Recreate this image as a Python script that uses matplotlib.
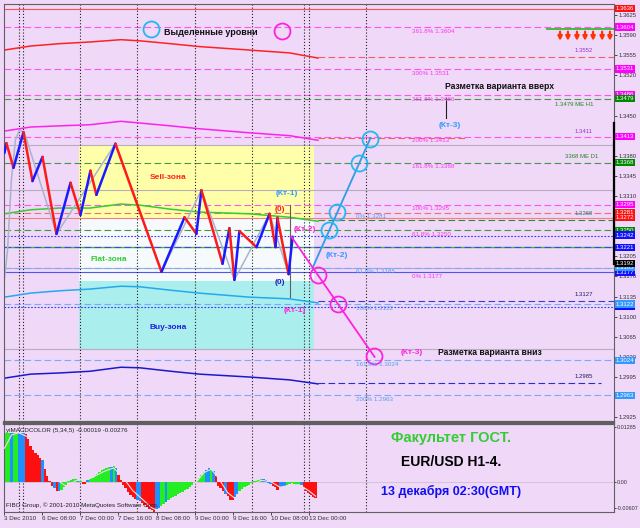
import numpy as np
import matplotlib
matplotlib.use('Agg')
import matplotlib.pyplot as plt

plt.rcParams['font.family'] = ['Liberation Sans', 'DejaVu Sans']

# x axis: hours from 6 Dec 00:00, weekend removed
# envelope moving averages
ma_hours = [-8, 3, 15, 28, 41, 49, 62, 74, 95, 112, 124]
ma_red = [1.3564, 1.3571, 1.3575, 1.3578, 1.3582, 1.3580, 1.3575, 1.3570, 1.3564, 1.3559, 1.3550]
ma_magenta = [1.3423, 1.3430, 1.3432, 1.3434, 1.3440, 1.3437, 1.3432, 1.3427, 1.3420, 1.3415, 1.3407]
ma_green = [1.3279, 1.3286, 1.3289, 1.3289, 1.3296, 1.3294, 1.3287, 1.3282, 1.3279, 1.3273, 1.3266]
ma_cyan = [1.3134, 1.3141, 1.3145, 1.3148, 1.3153, 1.3152, 1.3146, 1.3141, 1.3134, 1.3131, 1.3124]
ma_blue = [1.2993, 1.3000, 1.3002, 1.3005, 1.3012, 1.3011, 1.3005, 1.3000, 1.2995, 1.2990, 1.2983]

# zigzag
zz_hours = [-8.0, -7.2, -4.2, 0.0, 3.8, 8.0, 13.9, 19.8, 24.0, 28.2, 30.7, 38.7, 58.1,
            67.8, 72.8, 74.9, 83.8, 86.7, 88.8, 90.9, 98.1, 103.6, 106.1, 106.9, 111.6, 113.3]
zz_prices = [1.3385, 1.3402, 1.3359, 1.3421, 1.3336, 1.3378, 1.3244, 1.3333, 1.3277, 1.3354,
             1.3312, 1.3401, 1.3178, 1.3273, 1.3244, 1.3320, 1.3192, 1.3254, 1.3164, 1.3249,
             1.3221, 1.3279, 1.3221, 1.3272, 1.3174, 1.3239]
gz_hours = [-8.4, -6.7, -5.1, -3.4, -1.7, 0.4, 13.9, 38.7, 58.1, 74.9, 88.8, 103.6, 111.6]
gz_prices = [1.3152, 1.3216, 1.3338, 1.3407, 1.3425, 1.3420, 1.3244, 1.3401, 1.3178, 1.3320,
             1.3164, 1.3279, 1.3174]

# zones
zone_hours = [23.2, 122.5]
sell_zone = [1.3272, 1.3399]
flat_zone = [1.3162, 1.3272]
buy_zone = [1.3044, 1.3162]

# fibo levels
fib_up_pct = ['361.8%', '300%', '261.8%', '200%', '161.8%', '100%', '61.8%', '0%']
fib_up_prices = [1.3604, 1.3531, 1.3486, 1.3413, 1.3368, 1.3295, 1.3250, 1.3177]
fib_dn_pct = ['0%', '61.8%', '100%', '161.8%', '200%']
fib_dn_prices = [1.3281, 1.3185, 1.3122, 1.3024, 1.2963]

magenta_levels = [1.3604, 1.3531, 1.3486, 1.3413, 1.3295]
lightblue_levels = [1.3185, 1.3122, 1.3024, 1.2963]
green_levels = [1.3479, 1.3368, 1.3250]
gray_levels = [1.3399, 1.3320, 1.3185, 1.3043]
blue_dotted_levels = [1.3240, 1.3117]
red_solid_level = 1.3636
salmon_dashed_level = 1.3281
salmon_solid_level = 1.3272
green_solid_level = 1.3221
blue_dashed_level = 1.3221
blue_solid_level = 1.3177

# moving average projections to the right
ma_ext_prices = [1.3552, 1.3411, 1.3268, 1.3127, 1.2985]
ma_ext_end = [248.6, 186.0, 248.6, 248.6, 243.0]

# price boxes on the scale
box_red = [1.3636, 1.3281, 1.3272]
box_magenta = [1.3604, 1.3531, 1.3486, 1.3413, 1.3295]
box_green = [1.3479, 1.3368, 1.3250]
box_blue = [1.3242, 1.3221, 1.3177, 1.3117]
box_lightblue = [1.3185, 1.3122, 1.3024, 1.2963]
box_black = [1.3192]

# projection lines
up_hours = [121.7, 146.1]
up_prices = [1.3185, 1.3411]
up_circles = [1.3409, 1.3368, 1.3282, 1.3250]
dn_hours = [112.8, 147.8]
dn_prices = [1.3239, 1.3030]
dn_circles = [1.3172, 1.3122, 1.3032]

sep_hours = [-2, 0, 24, 48, 72, 96, 118, 120, 144]
tick_hours = [-8, 8, 24, 40, 56, 72, 88, 104, 120]
tick_labels = ['3 Dec 2010', '6 Dec 08:00', '7 Dec 00:00', '7 Dec 16:00', '8 Dec 08:00',
               '9 Dec 00:00', '9 Dec 16:00', '10 Dec 08:00', '13 Dec 00:00']
arrow_hours = [225.9, 229.2, 233.0, 236.4, 239.8, 243.6, 246.9]

# MACD histogram (x 0.001), phase u=up, d=down, x=turn
macd_hours = list(range(-8, 124))
macd_vals = [11.5, 11.5, 11.5, 11.5, 11.5, 11.5, 11.5, 11.5, 11.5, 11.2, 10.0, 8.5, 7.5, 6.8,
             6.2, 5.6, 5.2, 3.0, 1.5, 0.3, -1.0, -1.4, -2.0, -2.1, -1.8, -1.2, -0.6, 0.3,
             0.5, 0.6, 0.6, 0.4, 0.2, -0.4, -0.5, 0.4, 0.6, 1.0, 1.3, 1.8, 2.3, 2.8,
             3.1, 3.3, 3.5, 3.6, 3.8, 3.2, 1.6, 0.4, -0.8, -1.5, -2.3, -3.0, -3.6, -4.0,
             -4.3, -4.4, -4.8, -5.3, -5.8, -6.2, -6.6, -6.9, -6.3, -6.0, -5.7, -5.2, -4.6, -4.3,
             -3.8, -3.4, -3.2, -2.9, -2.6, -2.3, -1.9, -1.6, -1.2, -0.6, -0.1, 0.3, 0.9, 1.6,
             2.3, 2.8, 3.2, 2.9, 2.5, 1.3, -0.9, -1.4, -2.2, -2.7, -3.2, -4.1, -4.3, -3.5,
             -2.8, -2.0, -1.6, -1.2, -0.9, -0.6, -0.2, 0.2, 0.3, 0.4, 0.6, 0.7, 0.4, -0.2,
             -0.4, -0.9, -1.2, -1.9, -1.2, -1.2, -1.0, -0.8, -0.5, -0.3, -0.5, -0.6, -0.7, -0.8,
             -1.5, -2.0, -2.6, -3.0, -3.4, -3.8]
macd_phase = list('uuuxuuxxx' 'dddddddx' 'dddd' 'xdx' 'uuuuuuux' 'uddx' 'uuuuuuuuuxux'
                  'dddddddd' 'xx' 'dddddd' 'xx' 'uux' 'uuuuuuuuuuuuuuuu' 'xxux' 'dddd' 'xddd'
                  'xx' 'uuuuuuuuuu' 'xxxx' 'ddd' 'xxx' 'uuuuuu' 'x' 'dddddd')
sig_hours = [-8, -5, -2, 2, 6, 10, 14, 18, 22, 28, 34, 38, 42, 46, 50, 54, 57, 62, 68, 72,
             76, 79, 82, 86, 89, 94, 100, 104, 108, 112, 116, 120, 123]
sig_vals = [7.9, 11.0, 11.5, 10.5, 8.0, 5.0, 0.5, -1.0, 0.3, 0.8, 2.5, 3.3, 1.0, -2.0, -4.0,
            -6.0, -6.8, -5.0, -3.0, -0.5, 2.2, 3.0, 1.0, -2.5, -3.8, -1.5, 0.4, 0.1, -1.2,
            -0.8, -0.6, -2.0, -3.3]

# ---------------------------------------------------------------
bg = '#F0D8F8'
fig = plt.figure(figsize=(6.4, 5.28), dpi=100, facecolor=bg)
ax = fig.add_axes([4 / 640, 1 - 422 / 528, 610 / 640, 418 / 528], facecolor=bg)
ax2 = fig.add_axes([4 / 640, 1 - 512 / 528, 610 / 640, 88 / 528], facecolor=bg, sharex=ax)
x0, x1 = -8.2, 248.6
ax.set_xlim(x0, x1)
ax.set_ylim(1.29167, 1.36441)

dash = (0, (6, 3))
lw = 0.8

# zones
ax.fill_between(zone_hours, sell_zone[0], sell_zone[1], color='#FFFFAA', lw=0, zorder=0.5)
ax.fill_between(zone_hours, flat_zone[0], flat_zone[1], color='#F6FAFC', lw=0, zorder=0.5)
ax.fill_between(zone_hours, buy_zone[0], buy_zone[1], color='#AAEEEE', lw=0, zorder=0.5)

# horizontal levels
for p in gray_levels:
    ax.axhline(p, color='#B8AEC0', lw=lw, zorder=1)
for p in magenta_levels:
    ax.axhline(p, color='#FF55EE', lw=lw, ls=dash, zorder=1.2)
for p in lightblue_levels:
    ax.axhline(p, color='#77AAFF', lw=lw, ls=dash, zorder=1.2)
for p in green_levels:
    ax.axhline(p, color='#449944', lw=lw, ls=dash, zorder=1.3)
for p in blue_dotted_levels:
    ax.axhline(p, color='#3333FF', lw=lw, ls=(0, (1.5, 1.5)), zorder=1.2)
ax.axhline(red_solid_level, color='#FF5050', lw=lw, zorder=1.2)
ax.axhline(salmon_dashed_level, color='#F07070', lw=lw, ls=dash, zorder=1.2)
ax.axhline(salmon_solid_level, color='#F08080', lw=lw, zorder=1.2)
ax.axhline(green_solid_level, color='#44BB44', lw=1.0, zorder=1.2)
ax.axhline(blue_dashed_level, color='#4444EE', lw=lw, ls=dash, zorder=1.25)
ax.axhline(blue_solid_level, color='#5555EE', lw=lw, zorder=1.2)

ext_colors = ['#F06060', '#F06060', '#338833', '#3344CC', '#2233CC']
for p, e, c in zip(ma_ext_prices, ma_ext_end, ext_colors):
    ax.plot([124, e], [p, p], color=c, lw=lw, ls=dash, zorder=1.2)
ext_text_colors = ['#9933CC', '#9933CC', '#228080', '#202060', '#202060']
for p, c in zip(ma_ext_prices, ext_text_colors):
    ax.annotate(f'{p:.4f}', (232.2, p), xytext=(0, 4.5), textcoords='offset points',
                fontsize=4.3, color=c, va='center', ha='left')

# short green line and arrows at the top right
ax.plot([220.4, 248.6], [1.3601, 1.3601], color='#33BB33', lw=1.3, zorder=2)
for h in arrow_hours:
    ax.annotate('', xy=(h, 1.3580), xytext=(h, 1.3596),
                arrowprops=dict(arrowstyle='-|>', color='#FF3300', lw=1.6,
                                mutation_scale=6, shrinkA=0, shrinkB=0), zorder=3)

# separators
for h in sep_hours:
    for a in (ax, ax2):
        a.axvline(h, color='#202020', lw=0.8, ls=(0, (1, 1.8)), zorder=1.5)

# moving averages
for vals, c in zip([ma_red, ma_magenta, ma_green, ma_cyan, ma_blue],
                   ['#FF2222', '#FF22EE', '#33CC33', '#22AAEE', '#1A1ACC']):
    ax.plot(ma_hours, vals, color=c, lw=1.1, zorder=2)

# gray zigzag and main zigzag
ax.plot(gz_hours, gz_prices, color='#A8B4CC', lw=1.1, zorder=2.5)
for i in range(len(zz_hours) - 1):
    c = '#1A1AFF' if zz_prices[i + 1] > zz_prices[i] else '#FF1A1A'
    ax.plot(zz_hours[i:i + 2], zz_prices[i:i + 2], color=c, lw=1.8,
            solid_capstyle='round', zorder=3)
ax.plot([112.2, 112.2], [1.3294, 1.3134], color='#606060', lw=0.8, zorder=2.8)

# projection lines with circles
ax.plot(up_hours, up_prices, color='#2E9CE8', lw=1.3, zorder=3)
ax.plot(dn_hours, dn_prices, color='#FF22DD', lw=1.3, zorder=3)
up_x = np.interp(up_circles, up_prices, up_hours)
dn_x = np.interp(dn_circles, dn_prices[::-1], dn_hours[::-1])
ax.plot(up_x, up_circles, 'o', ms=11.5, mfc='none', mec='#22B8F0', mew=1.3, zorder=4)
ax.plot(dn_x, dn_circles, 'o', ms=11.5, mfc='none', mec='#FF22DD', mew=1.3, zorder=4)
ax.plot([53.7], [1.3601], 'o', ms=11.5, mfc='none', mec='#22B8F0', mew=1.3, zorder=4)
ax.plot([108.8], [1.3597], 'o', ms=11.5, mfc='none', mec='#FF22DD', mew=1.3, zorder=4)
ax.plot([177.9, 177.9], [1.3481, 1.3446], color='#202020', lw=0.8, zorder=3)

# fibo labels
for t, p in zip(fib_up_pct, fib_up_prices):
    ax.annotate(f'{t} {p:.4f}', (163.6, p), xytext=(0, -3), textcoords='offset points',
                fontsize=4.5, color='#FF33EE', va='center', ha='left', zorder=5)
for t, p in zip(fib_dn_pct, fib_dn_prices):
    ax.annotate(f'{t} {p:.4f}', (140.0, p), xytext=(0, -3), textcoords='offset points',
                fontsize=4.5, color='#55A0F0', va='center', ha='left', zorder=5)
ax.text(223.8, 1.3470, '1.3479 ME H1', fontsize=4.3, color='#228822', va='center', ha='left')
ax.text(228.0, 1.3378, '3368 ME D1', fontsize=4.3, color='#228822', va='center', ha='left')

# annotations
bold = dict(fontweight='bold', ha='center', va='center', zorder=6)
ax.text(79.0, 1.3595, 'Выделенные уровни', fontsize=6.5, color='#101010', **bold)
ax.text(200.6, 1.3501, 'Разметка варианта вверх', fontsize=6.2, color='#101010', **bold)
ax.text(196.4, 1.3037, 'Разметка варианта вниз', fontsize=6.2, color='#101010', **bold)
ax.text(60.8, 1.3343, 'Sell-зона', fontsize=6, color='#FF2020', **bold)
ax.text(36.0, 1.3200, 'Flat-зона', fontsize=6, color='#33CC33', **bold)
ax.text(60.8, 1.3082, 'Buy-зона', fontsize=6, color='#2020DD', **bold)
ax.text(111.0, 1.3315, '(Кт-1)', fontsize=6, color='#3399FF', **bold)
ax.text(108.0, 1.3287, '(0)', fontsize=6, color='#FF2020', **bold)
ax.text(118.5, 1.3251, '(Кт-2)', fontsize=6, color='#FF22DD', **bold)
ax.text(108.0, 1.3159, '(0)', fontsize=6, color='#2020C0', **bold)
ax.text(114.3, 1.3110, '(Кт-1)', fontsize=6, color='#FF22DD', **bold)
ax.text(132.0, 1.3206, '(Кт-2)', fontsize=6, color='#3399FF', **bold)
ax.text(179.6, 1.3432, '(Кт-3)', fontsize=6, color='#3399FF', **bold)
ax.text(163.6, 1.3037, '(Кт-3)', fontsize=6, color='#FF22DD', **bold)

# price scale, labels under the price boxes are hidden as in the terminal
boxes = [(box_red, '#FF1010', 'white'), (box_magenta, '#FF00FF', 'white'),
         (box_green, '#008800', 'white'), (box_blue, '#1010FF', 'white'),
         (box_lightblue, '#3399FF', 'white'), (box_black, '#000000', 'white')]
all_boxes = np.array([p for prices, _, _ in boxes for p in prices])
ax.yaxis.tick_right()
yt = np.arange(1.2925, 1.3626, 0.0035)
ax.set_yticks(yt)
ax.set_yticklabels(['' if np.min(np.abs(all_boxes - v)) < 0.00055 else f'{v:.4f}' for v in yt])
ax.tick_params(axis='y', labelsize=4.2, length=2, pad=1.2, colors='#303030', width=0.6)
ax.tick_params(axis='x', bottom=False, labelbottom=False)
for prices, fc, tc in boxes:
    for p in prices:
        ax.annotate(f'{p:.4f}', xy=(1, p), xycoords=('axes fraction', 'data'),
                    xytext=(1.3, 0), textcoords='offset points', fontsize=4.3, color=tc,
                    va='center', ha='left', annotation_clip=False, zorder=10,
                    bbox=dict(boxstyle='square,pad=0.18', fc=fc, ec='none'))
ax.plot([1, 1], [1.3437, 1.3192], color='black', lw=1.6, transform=ax.get_yaxis_transform(),
        clip_on=False, zorder=9)

# MACD panel
ax2.set_ylim(-0.0070, 0.01355)
col = {'u': '#22EE22', 'd': '#FF1010', 'x': '#1E90FF'}
ax2.bar(macd_hours, np.array(macd_vals) * 1e-3, width=1.0,
        color=[col[s] for s in macd_phase], lw=0, zorder=2)
ax2.plot(sig_hours, np.array(sig_vals) * 1e-3, color='#F4DCE8', lw=0.8, zorder=3)
ax2.axhline(0, color='#C8B8D0', lw=0.5, zorder=1)
ax2.yaxis.tick_right()
ax2.set_yticks([0.01285, 0.0, -0.00607])
ax2.set_yticklabels(['0.01285', '0.00', '-0.00607'])
ax2.tick_params(axis='y', labelsize=3.9, length=1.5, pad=0.8, colors='#303030', width=0.6)
ax2.set_xticks(tick_hours)
ax2.set_xticklabels(tick_labels, ha='left')
ax2.tick_params(axis='x', labelsize=4.5, length=2, pad=1, colors='#303030', width=0.6)
ax2.text(0.004, 0.95, 'yiMACDCOLOR (5,34,5) -0.00019 -0.00276', transform=ax2.transAxes,
         fontsize=4.5, color='#202020', va='top', ha='left')
ax2.text(0.004, 0.04, 'FIBO Group, © 2001-2010 MetaQuotes Software Corp.', transform=ax2.transAxes,
         fontsize=4.5, color='#202020', va='bottom', ha='left')
ax2.text(180, 0.0103, 'Факультет ГОСТ.', fontsize=10.5, color='#33CC33', fontweight='bold',
         ha='center', va='center', zorder=6)
ax2.text(180, 0.0047, 'EUR/USD H1-4.', fontsize=10, color='#000000', fontweight='bold',
         ha='center', va='center', zorder=6)
ax2.text(180, -0.0023, '13 декабря 02:30(GMT)', fontsize=9, color='#1010EE', fontweight='bold',
         ha='center', va='center', zorder=6)

for a in (ax, ax2):
    for s in a.spines.values():
        s.set_color('#606060')
        s.set_linewidth(0.8)
ax.spines['bottom'].set_linewidth(1.6)
ax2.spines['top'].set_linewidth(1.6)

fig.savefig('out.png', dpi=100, facecolor=bg)
